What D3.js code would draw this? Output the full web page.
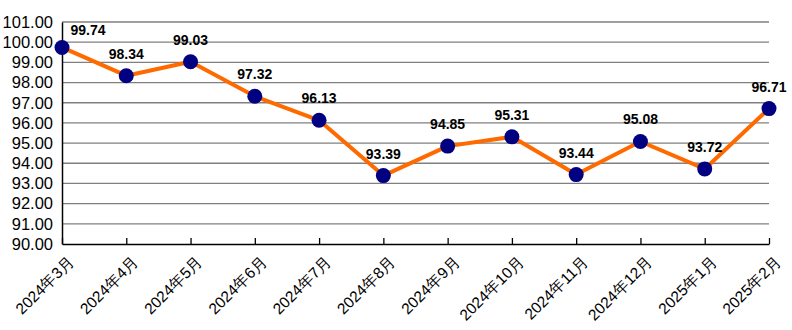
<!DOCTYPE html>
<html><head><meta charset="utf-8">
<script src="https://cdn.jsdelivr.net/npm/d3@7"></script>
<style>body{margin:0;background:#fff}svg{display:block}</style>
</head><body><svg id="c" width="792" height="330"></svg>
<script>
const categories = ["2024年3月","2024年4月","2024年5月","2024年6月","2024年7月","2024年8月","2024年9月","2024年10月","2024年11月","2024年12月","2025年1月","2025年2月"];
const values = [99.74,98.34,99.03,97.32,96.13,93.39,94.85,95.31,93.44,95.08,93.72,96.71];
const yTicks = [90,91,92,93,94,95,96,97,98,99,100,101];

const svg = d3.select("#c");
const L = 62, R = 769, T = 22, B = 244;
const x = d3.scalePoint().domain(categories).range([L, R]);
const y = d3.scaleLinear().domain([90, 101]).range([B, T]);

// gridlines
svg.append("g").selectAll("line").data(yTicks.filter(d => d > 90)).join("line")
  .attr("x1", L).attr("x2", R).attr("y1", d => y(d)).attr("y2", d => y(d))
  .attr("stroke", "#808080").attr("stroke-width", 1.3);

// y axis
const ya = svg.append("g").attr("transform", `translate(${L},0)`)
  .call(d3.axisLeft(y).tickValues(yTicks).tickSize(0).tickPadding(9).tickFormat(d3.format(".2f")));
ya.select(".domain").attr("stroke", "#000").attr("stroke-width", 1.5);
ya.selectAll("text").attr("font-family", "Liberation Sans, Arial, sans-serif").attr("font-size", 16.5).attr("fill", "#000");

// x axis
const xa = svg.append("g").attr("transform", `translate(0,${B})`)
  .call(d3.axisBottom(x).tickSize(-6).tickSizeOuter(0).tickFormat(""));
xa.select(".domain").attr("stroke", "#000").attr("stroke-width", 1.5);
xa.selectAll(".tick line").attr("stroke", "#000").attr("stroke-width", 1.3);

svg.append("g").selectAll("text").data(categories).join("text")
  .attr("transform", d => `translate(${x(d) + 5},${B + 10}) rotate(-45)`)
  .attr("text-anchor", "end").attr("dy", "0.75em")
  .attr("font-family", "Liberation Sans, Arial, sans-serif").attr("font-size", 15.5).attr("fill", "#000")
  .text(d => d);

// line
const line = d3.line().x((d, i) => x(categories[i])).y(d => y(d));
svg.append("path").datum(values).attr("d", line)
  .attr("fill", "none").attr("stroke", "#FF6A00").attr("stroke-width", 4).attr("stroke-linejoin", "round");

// markers
svg.append("g").selectAll("circle").data(values).join("circle")
  .attr("cx", (d, i) => x(categories[i])).attr("cy", d => y(d)).attr("r", 7.5)
  .attr("fill", "#000080");

// labels
svg.append("g").selectAll("text").data(values).join("text")
  .attr("x", (d, i) => x(categories[i]) + (i === 0 ? 26 : 0))
  .attr("y", (d, i) => y(d) - (i === 0 ? 12 : 17))
  .attr("text-anchor", "middle")
  .attr("font-family", "Liberation Sans, Arial, sans-serif").attr("font-size", 14).attr("font-weight", "bold").attr("fill", "#000")
  .text(d => d.toFixed(2));
</script></body></html>
